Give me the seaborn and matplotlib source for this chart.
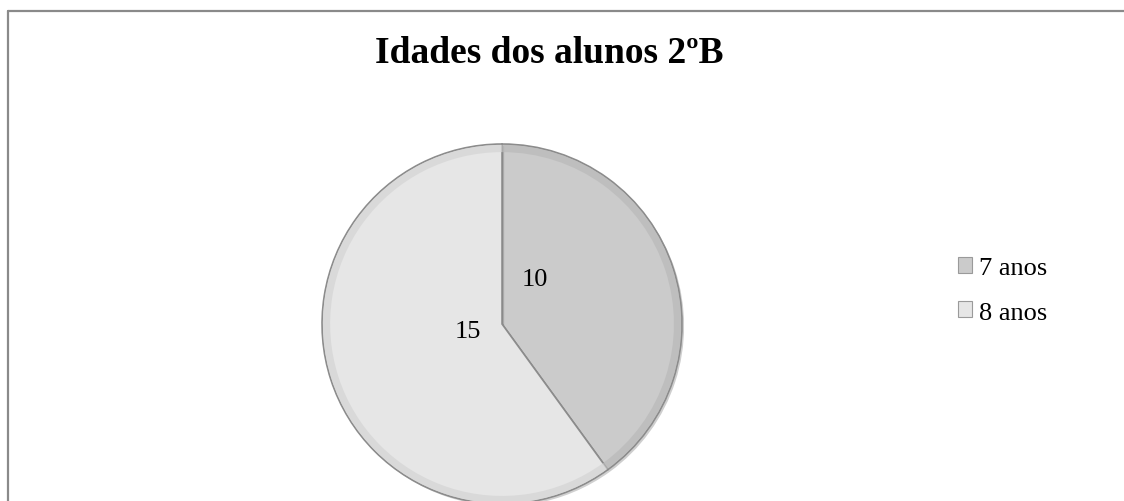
import numpy as np
import matplotlib
matplotlib.use("Agg")
import matplotlib.pyplot as plt
import matplotlib.patheffects as pe
from matplotlib.patches import Patch
from matplotlib.lines import Line2D
import seaborn as sns

sns.set_theme(style="white")
plt.rcParams["font.family"] = ["Liberation Serif", "DejaVu Serif"]
plt.rcParams["text.color"] = "black"

TITLE = "Idades dos alunos 2ºB"
categories = ["7 anos", "8 anos"]
counts = [10, 15]
slice_colors = ["#cbcbcb", "#e6e6e6"]
rim_colors = ["#b9b9b9", "#d4d4d4"]
EDGE = "#8c8c8c"

fig = plt.figure(figsize=(11.24, 5.02), dpi=100)
fig.patch.set_facecolor("white")

# chart frame (top and left visible in the crop)
fig.add_artist(Line2D([0.0075, 0.0075], [0, 0.976], transform=fig.transFigure,
                      color="#8a8a8a", lw=1.6))
fig.add_artist(Line2D([0.0075, 1.0], [0.976, 0.976], transform=fig.transFigure,
                      color="#8a8a8a", lw=1.6))

fig.text(0.4885, 0.893, TITLE, ha="center", va="center",
         fontsize=27, fontweight="bold", color="black")

ax = fig.add_axes([0.2865, -0.006, 0.3203, 0.7171])
wedges, _ = ax.pie(counts, colors=slice_colors, startangle=90, counterclock=False,
                   radius=1.0,
                   wedgeprops=dict(edgecolor=EDGE, linewidth=1.2))
for w in wedges:
    w.set_path_effects([pe.SimplePatchShadow(offset=(1.5, -1.5), alpha=0.25),
                        pe.Normal()])
# bevel-like darker rim
ax.pie(counts, colors=rim_colors, startangle=90, counterclock=False,
       radius=0.995, wedgeprops=dict(width=0.04, edgecolor="none", alpha=0.7))
ax.set_xlim(-1, 1)
ax.set_ylim(-1, 1)
ax.set_aspect("equal")
ax.axis("off")

# value labels
label_pos = [(0.18, 0.25), (-0.19, -0.04)]
for (x, y), v in zip(label_pos, counts):
    ax.text(x, y, str(v), ha="center", va="center", fontsize=19, color="black")

handles = [Patch(facecolor=c, edgecolor="#9a9a9a", linewidth=0.8) for c in slice_colors]
leg = fig.legend(handles, categories, loc="center left",
                 bbox_to_anchor=(0.831, 0.42), frameon=False, fontsize=19,
                 handlelength=0.55, handleheight=0.55, handletextpad=0.25,
                 labelspacing=0.85, labelcolor="black")

fig.savefig("out.png", dpi=100, facecolor="white")
